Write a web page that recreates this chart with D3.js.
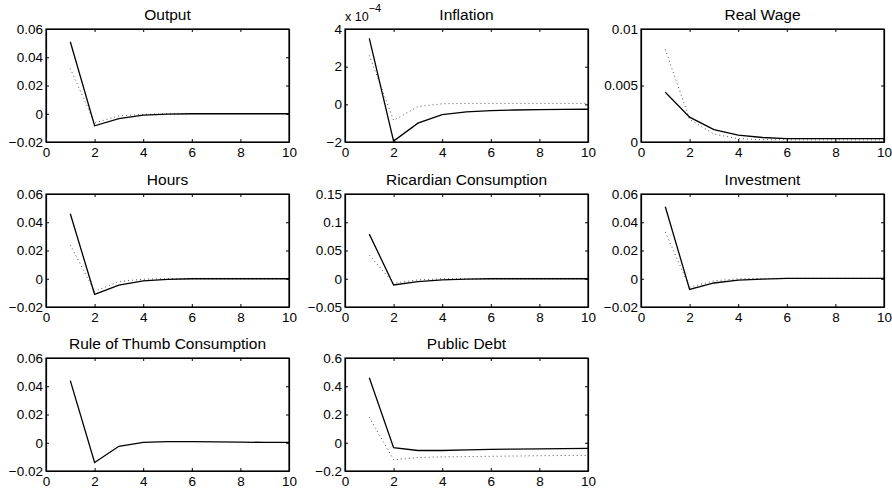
<!DOCTYPE html>
<html>
<head>
<meta charset="utf-8">
<script src="https://cdn.jsdelivr.net/npm/d3@7"></script>
<style>
  body { margin: 0; background: #fff; }
  text { font-family: "Liberation Sans", Arial, Helvetica, sans-serif; fill: #000; }
</style>
</head>
<body>
<div id="chart"></div>
<script>
// horizon (quarters)
var periods = [1, 2, 3, 4, 5, 6, 7, 8, 9, 10];
var xTicks = [0, 2, 4, 6, 8, 10];

var titles = ["Output", "Inflation", "Real Wage", "Hours", "Ricardian Consumption",
  "Investment", "Rule of Thumb Consumption", "Public Debt"];

// solid line = first specification, dotted = second specification
var outputSolid = [0.051, -0.0085, -0.0035, -0.001, -0.0002, 0, 0, 0, 0, 0];
var outputDotted = [0.032, -0.0065, -0.0015, -0.0004, 0, 0, 0, 0, 0, 0];
var inflationSolid = [3.5, -1.95, -1.0, -0.55, -0.4, -0.33, -0.3, -0.28, -0.27, -0.26];
var inflationDotted = [2.6, -0.85, -0.12, 0.03, 0.05, 0.05, 0.05, 0.05, 0.05, 0.05];
var wageSolid = [0.0044, 0.0022, 0.0011, 0.0006, 0.0004, 0.0003, 0.0003, 0.0003, 0.0003, 0.0003];
var wageDotted = [0.0082, 0.002, 0.0007, 0.0003, 0.0002, 0.0002, 0.0002, 0.0002, 0.0002, 0.0002];
var hoursSolid = [0.046, -0.011, -0.0045, -0.0015, -0.0005, 0, 0, 0, 0, 0];
var hoursDotted = [0.024, -0.009, -0.002, -0.0003, 0, 0, 0, 0, 0, 0];
var ricardianSolid = [0.079, -0.011, -0.005, -0.002, -0.0005, 0, 0, 0, 0, 0];
var ricardianDotted = [0.042, -0.008, -0.002, 0, 0, 0, 0, 0, 0, 0];
var investmentSolid = [0.051, -0.0075, -0.003, -0.001, -0.0002, 0.0002, 0.0003, 0.0003, 0.0003, 0.0003];
var investmentDotted = [0.033, -0.006, -0.0015, 0, 0.0002, 0.0003, 0.0003, 0.0003, 0.0003, 0.0003];
var ruleSolid = [0.044, -0.014, -0.0025, 0.0002, 0.0008, 0.0008, 0.0006, 0.0004, 0.0003, 0.0003];
var debtSolid = [0.46, -0.035, -0.055, -0.055, -0.05, -0.047, -0.045, -0.043, -0.042, -0.04];
var debtDotted = [0.18, -0.12, -0.105, -0.1, -0.098, -0.096, -0.094, -0.092, -0.09, -0.09];

var yTicksOutput = [-0.02, 0, 0.02, 0.04, 0.06];
var yTicksInflation = [-2, 0, 2, 4];
var yTicksWage = [0, 0.005, 0.01];
var yTicksRicardian = [-0.05, 0, 0.05, 0.1, 0.15];
var yTicksDebt = [-0.2, 0, 0.2, 0.4, 0.6];

var panels = [
  { title: titles[0], solid: outputSolid, dotted: outputDotted, ticks: yTicksOutput },
  { title: titles[1], solid: inflationSolid, dotted: inflationDotted, ticks: yTicksInflation, exponent: true },
  { title: titles[2], solid: wageSolid, dotted: wageDotted, ticks: yTicksWage },
  { title: titles[3], solid: hoursSolid, dotted: hoursDotted, ticks: yTicksOutput },
  { title: titles[4], solid: ricardianSolid, dotted: ricardianDotted, ticks: yTicksRicardian },
  { title: titles[5], solid: investmentSolid, dotted: investmentDotted, ticks: yTicksOutput },
  { title: titles[6], solid: ruleSolid, dotted: null, ticks: yTicksOutput },
  { title: titles[7], solid: debtSolid, dotted: debtDotted, ticks: yTicksDebt }
];

var svgWidth = 892;
var svgHeight = 489;
var colLeft = [46, 345, 641];
var rowTop = [29, 194, 358];
var width = 243;
var height = 113;
var tickLen = 3;

var svg = d3.select("#chart")
  .append("svg")
  .attr("width", svgWidth)
  .attr("height", svgHeight);

var fmt = function (d) {
  var s = d3.format("")(+d.toFixed(4));
  return s.replace("-", "\u2212");
};

panels.forEach(function (p, i) {
  var g = svg.append("g")
    .attr("transform", `translate(${colLeft[i % 3]}, ${rowTop[Math.floor(i / 3)]})`);

  var x = d3.scaleLinear().domain([0, 10]).range([0, width]);
  var y = d3.scaleLinear()
    .domain([p.ticks[0], p.ticks[p.ticks.length - 1]])
    .range([height, 0]);

  var line = d3.line()
    .x(function (d, j) { return x(periods[j]); })
    .y(function (d) { return y(d); });

  // lines
  if (p.dotted) {
    g.append("path")
      .datum(p.dotted)
      .attr("d", line)
      .attr("fill", "none")
      .attr("stroke", "#555")
      .attr("stroke-width", 1)
      .attr("stroke-dasharray", "1,3");
  }
  g.append("path")
    .datum(p.solid)
    .attr("d", line)
    .attr("fill", "none")
    .attr("stroke", "#000")
    .attr("stroke-width", 1.3);

  // axes (inward ticks, mirrored on top/right)
  var xAxis = d3.axisBottom(x).tickValues(xTicks).tickSizeInner(-tickLen).tickSizeOuter(0).tickPadding(5);
  var yAxis = d3.axisLeft(y).tickValues(p.ticks).tickSizeInner(-tickLen).tickSizeOuter(0).tickPadding(3).tickFormat(fmt);

  g.append("g").attr("transform", `translate(0, ${height})`).call(xAxis);
  g.append("g").call(yAxis);
  g.append("g").call(d3.axisTop(x).tickValues(xTicks).tickSizeInner(-tickLen).tickSizeOuter(0).tickFormat(""));
  g.append("g").attr("transform", `translate(${width}, 0)`)
    .call(d3.axisRight(y).tickValues(p.ticks).tickSizeInner(-tickLen).tickSizeOuter(0).tickFormat(""));

  g.selectAll("path.domain").attr("stroke", "#000").attr("stroke-width", 1.2);
  g.selectAll(".tick line").attr("stroke", "#000");
  g.selectAll(".tick text")
    .style("font-size", "13.5px")
    .style("font-family", "'Liberation Sans', Arial, sans-serif");

  g.append("rect")
    .attr("width", width)
    .attr("height", height)
    .attr("fill", "none")
    .attr("stroke", "#000")
    .attr("stroke-width", 1.2);

  g.append("text")
    .attr("x", width / 2)
    .attr("y", -9)
    .style("text-anchor", "middle")
    .style("font-size", "15.5px")
    .text(p.title);

  if (p.exponent) {
    var ex = g.append("text")
      .attr("x", 0)
      .attr("y", -8)
      .style("font-size", "12.5px");
    ex.append("tspan").text("x 10");
    ex.append("tspan").attr("dx", 0).attr("dy", -9).style("font-size", "11px").text("\u22124");
  }
});
</script>
</body>
</html>
